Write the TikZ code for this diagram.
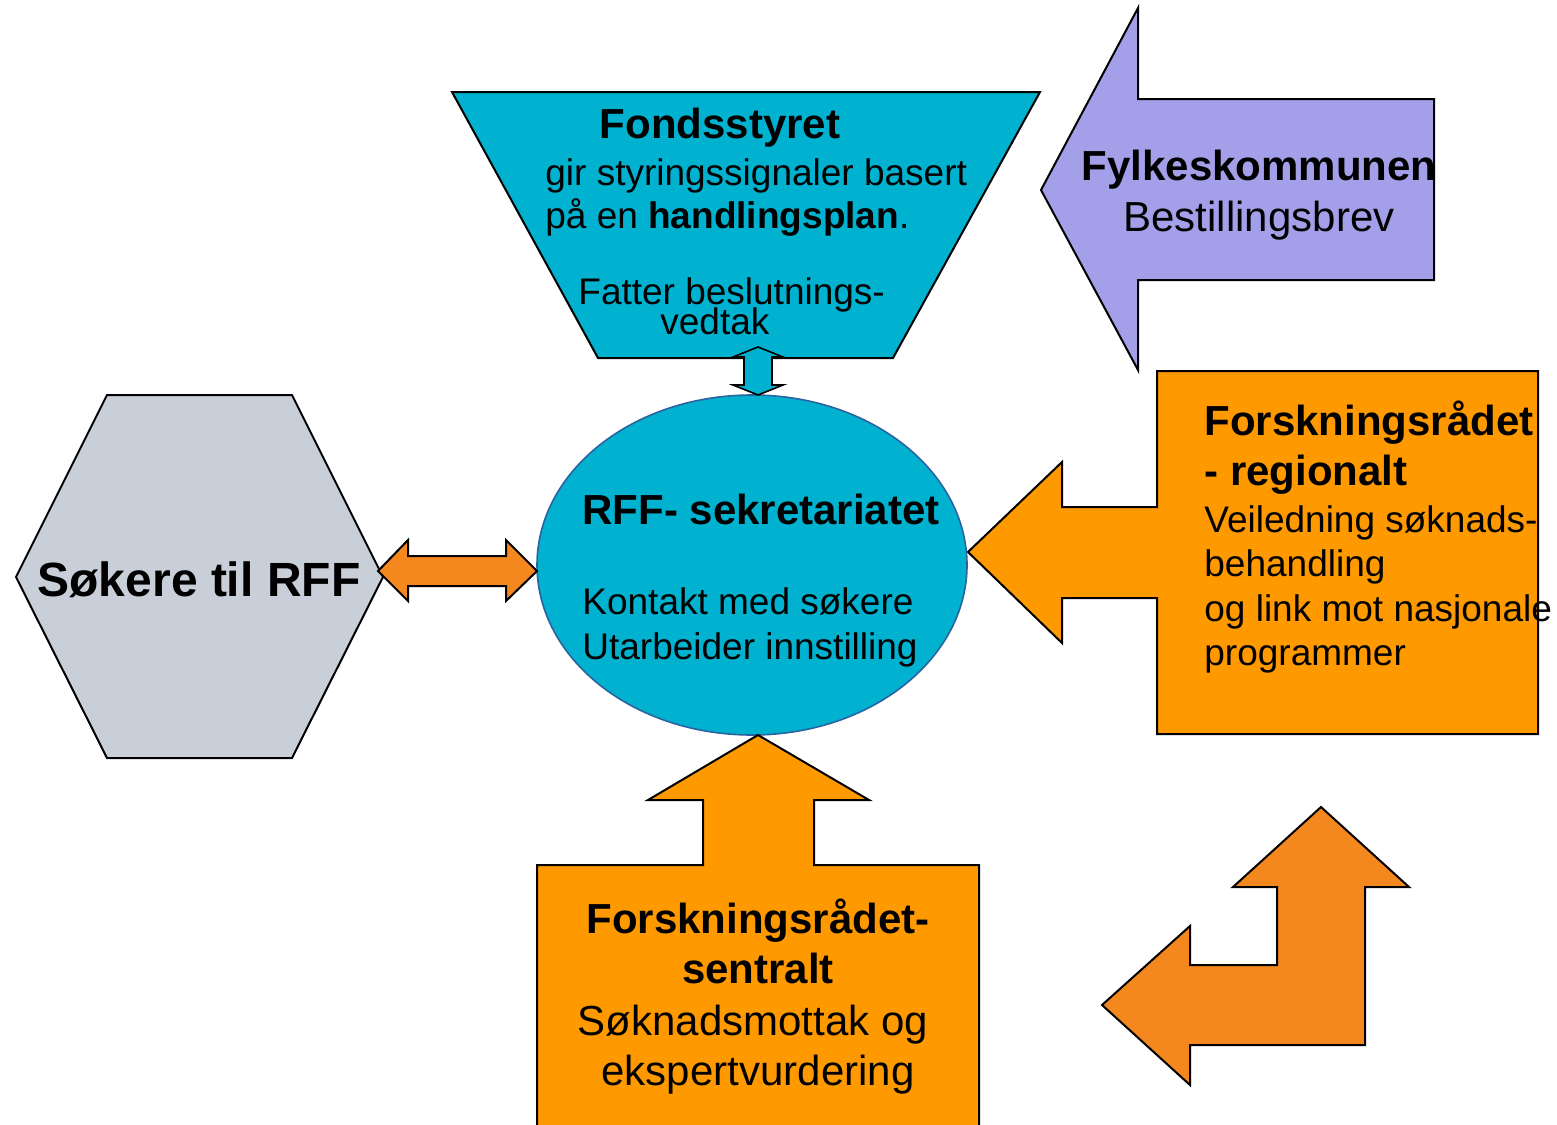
\documentclass[tikz,border=0pt]{standalone}
\usepackage{fontspec}
\setmainfont{Liberation Sans}
\definecolor{fondcyan}{HTML}{00B2D0}
\definecolor{rimblue}{HTML}{2A64A0}
\definecolor{hexgrey}{HTML}{C8CFD9}
\definecolor{fylkelilac}{HTML}{A3A0E9}
\definecolor{boxorange}{HTML}{FF9900}
\definecolor{arroworange}{HTML}{F5871F}

\begin{document}
\begin{tikzpicture}[x=0.5pt,y=-0.5pt,line join=miter,
  blockshape/.style={draw=black,line width=1pt},
  headtxt/.style={inner sep=0pt,font=\fontsize{21}{25}\selectfont\bfseries},
  bodytxt/.style={inner sep=0pt,font=\fontsize{18.5}{22}\selectfont},
  widetxt/.style={inner sep=0pt,font=\fontsize{21}{25}\selectfont}]
\useasboundingbox (0,0) rectangle (1557,1124);

% shapes
\draw[blockshape,fill=fondcyan] (452,92) -- (1040,92) -- (893,358) -- (598,358) -- cycle;
\draw[blockshape,fill=fylkelilac] (1041,190) -- (1138,8) -- (1138,99) -- (1434,99) -- (1434,280) -- (1138,280) -- (1138,370) -- cycle;
\draw[blockshape,fill=boxorange] (968,552) -- (1062,462) -- (1062,507) -- (1157,507) -- (1157,371) -- (1538,371)
  -- (1538,734) -- (1157,734) -- (1157,598) -- (1062,598) -- (1062,643) -- cycle;
\draw[draw=rimblue,line width=0.8pt,fill=fondcyan] (752,565) ellipse [x radius=107.5pt, y radius=85pt];
\draw[blockshape,line width=0.8pt,fill=fondcyan] (758,347) -- (783,357) -- (772,357) -- (772,385) -- (783,385) -- (758,395)
  -- (733,385) -- (744,385) -- (744,357) -- (733,357) -- cycle;
\draw[blockshape,fill=boxorange] (758,735) -- (869,800) -- (814,800) -- (814,865) -- (979,865) -- (979,1128)
  -- (537,1128) -- (537,865) -- (703,865) -- (703,800) -- (648,800) -- cycle;
\draw[blockshape,fill=hexgrey] (16,577) -- (107,395) -- (292,395) -- (383,577) -- (292,758) -- (107,758) -- cycle;
\draw[blockshape,fill=arroworange] (378,571) -- (408,540) -- (408,556) -- (506,556) -- (506,540) -- (537,571)
  -- (506,601) -- (506,586) -- (408,586) -- (408,601) -- cycle;
\draw[blockshape,fill=arroworange] (1321,807) -- (1409,887) -- (1365,887) -- (1365,1045) -- (1190,1045) -- (1190,1085)
  -- (1102,1005) -- (1190,926) -- (1190,965) -- (1277,965) -- (1277,887) -- (1233,887) -- cycle;

% Fondsstyret
\node[headtxt,anchor=base] (fond) at (720,138) {Fondsstyret};
\node[bodytxt,anchor=base west] (fondA) at (545,185) {gir styringssignaler basert};
\node[bodytxt,anchor=base west] (fondB) at (545,228) {på en \textbf{handlingsplan}.};
\node[bodytxt,anchor=base west] (fondC) at (578,304) {Fatter beslutnings-};
\node[bodytxt,anchor=base west] (fondD) at (660,334) {vedtak};

% Fylkeskommunen
\node[headtxt,anchor=base] (fylke) at (1259,180) {Fylkeskommunen};
\node[widetxt,anchor=base] (fylkeA) at (1259,231) {Bestillingsbrev};

% sekretariatet
\node[headtxt,anchor=base west] (sekr) at (582,524) {RFF- sekretariatet};
\node[bodytxt,anchor=base west] (sekrA) at (582,614) {Kontakt med søkere};
\node[bodytxt,anchor=base west] (sekrB) at (582,659) {Utarbeider innstilling};

% sokere
\node[inner sep=0pt,font=\fontsize{24}{28}\selectfont\bfseries,anchor=base] (soker) at (199,596) {Søkere til RFF};

% regionalt
\node[headtxt,anchor=base west] (reg) at (1204,435) {Forskningsrådet};
\node[headtxt,anchor=base west] (regA) at (1204,485) {- regionalt};
\node[bodytxt,anchor=base west] (regB) at (1204,532) {Veiledning søknads-};
\node[bodytxt,anchor=base west] (regC) at (1204,576) {behandling};
\node[bodytxt,anchor=base west] (regD) at (1204,621) {og link mot nasjonale};
\node[bodytxt,anchor=base west] (regE) at (1204,665) {programmer};

% sentralt
\node[headtxt,anchor=base] (sent) at (758,933) {Forskningsrådet-};
\node[headtxt,anchor=base] (sentA) at (758,983) {sentralt};
\node[widetxt,anchor=base] (sentB) at (753,1035) {Søknadsmottak og};
\node[widetxt,anchor=base] (sentC) at (758,1085) {ekspertvurdering};
\end{tikzpicture}
\end{document}
